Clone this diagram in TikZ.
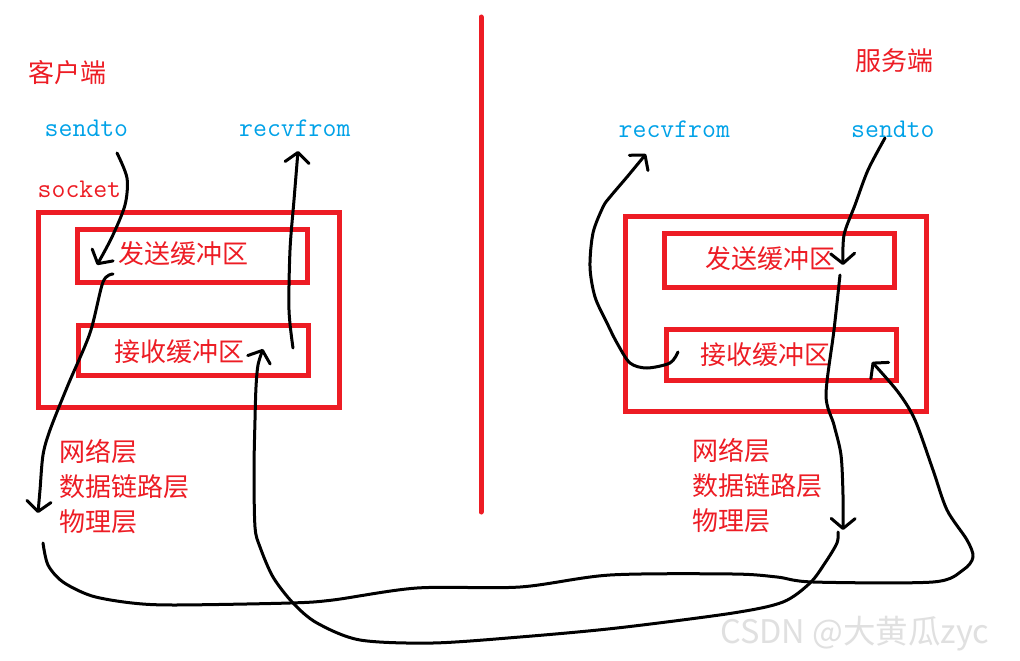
\documentclass[tikz,border=0pt]{standalone}
\usepackage{fontspec}
\usepackage{tikz}
\usetikzlibrary{positioning, arrows.meta}
\newfontfamily\cjkfont{Noto Sans CJK SC}
\definecolor{cRed}  {HTML}{ED1C24}
\definecolor{cBlue} {HTML}{00A2E8}
\definecolor{cMark} {HTML}{E0E0E0}
\tikzset{
  cnlabel/.style={text=cRed, font=\cjkfont\fontsize{26}{35}\selectfont, inner sep=0pt},
  fnlabel/.style={text=cBlue, font=\ttfamily\fontsize{27}{30}\selectfont, inner sep=0pt, anchor=base west},
  sockbox/.style={draw=cRed, line width=5pt, minimum width=301pt, minimum height=195pt, inner sep=0pt},
  bufbox/.style={draw=cRed, line width=5pt, minimum width=230pt, inner sep=0pt},
  pen/.style={black, line width=3pt, line cap=round, line join=round},
  pentip/.style={-{Straight Barb[length=10pt, width=24pt, line width=3pt, round]}},
}

\begin{document}
\begin{tikzpicture}[x=1pt, y=-1pt]
  \fill[white] (0,0) rectangle (1020,661);
  \draw[cRed, line width=5pt, line cap=round] (481,17) -- (481,512);

  % client
  \node[cnlabel] (client) at (67.5,72.5) {客户端};
  \node[fnlabel] (sendL) at (44.5,136) {sendto};
  \node[fnlabel] (recvL) at (239,136) {recvfrom};
  \node[fnlabel, text=cRed] (socketL) at (37.5,197) {socket};
  \node[sockbox] (sockL) at (189.3,310.2) {};
  \node[bufbox, minimum height=53pt] (sbufL) at (192.8,255.5) {};
  \node[bufbox, minimum height=50pt] (rbufL) at (193.8,350.5) {};
  \node[cnlabel] (sbufLtxt) at (183.7,254) {发送缓冲区};
  \node[cnlabel] (rbufLtxt) at (179,351.5) {接收缓冲区};
  \node[cnlabel, align=left, anchor=west] (layersL) at (59,487) {网络层\\数据链路层\\物理层};

  % server
  \node[cnlabel] (server) at (894,61) {服务端};
  \node[fnlabel] (recvR) at (618.5,137.3) {recvfrom};
  \node[fnlabel] (sendR) at (851,137.3) {sendto};
  \node[sockbox] (sockR) at (776.3,314.3) {};
  \node[bufbox, minimum height=54pt] (sbufR) at (779.8,260.3) {};
  \node[bufbox, minimum height=51pt] (rbufR) at (781,354.6) {};
  \node[cnlabel] (sbufRtxt) at (770.8,258.7) {发送缓冲区};
  \node[cnlabel] (rbufRtxt) at (765.8,355) {接收缓冲区};
  \node[cnlabel, align=left, anchor=west] (layersR) at (692,486) {网络层\\数据链路层\\物理层};

  \node[text=cMark, font=\cjkfont\fontsize{32.5}{36}\selectfont, inner sep=0pt, anchor=base west] (mark) at (720,643) {CSDN @大黄瓜zyc};

  % hand drawn paths
  \coordinate (sendLa) at (117,153);  \coordinate (sendLb) at (97,265);
  \coordinate (downLa) at (113,274);  \coordinate (downLb) at (38,513);
  \coordinate (wireAa) at (43,543);   \coordinate (wireAb) at (872,362);
  \coordinate (sendRa) at (885,138);  \coordinate (sendRb) at (843,265);
  \coordinate (downRa) at (840,275);  \coordinate (downRb) at (843,530);
  \coordinate (wireBa) at (838,532);  \coordinate (wireBb) at (263,349);
  \coordinate (recvLa) at (293,348);  \coordinate (recvLb) at (298,151);
  \coordinate (recvRa) at (678,352);  \coordinate (recvRb) at (646,154);

  \draw[pen, pentip] plot[smooth] coordinates {(sendLa) (127,178) (125,205) (112,237) (sendLb)};
  \draw[pen, pentip] plot[smooth] coordinates {(downLa) (103,282) (90,333) (68,385) (50,430) (43,455) (40,490) (downLb)};
  \draw[pen, pentip] plot[smooth] coordinates {(wireAa) (48,565) (63,582) (92,596) (132,603) (175,605) (290,603)
      (333,600) (417,588) (520,587) (610,575) (733,574) (777,577) (813,582) (933,582) (963,570)
      (973,557) (967,540) (947,510) (933,470) (915,420) (898,392) (wireAb)};
  \draw[pen, pentip] plot[smooth] coordinates {(sendRa) (868,170) (855,205) (844,235) (sendRb)};
  \draw[pen, pentip] plot[smooth] coordinates {(downRa) (834,330) (826,395) (834,425) (841,455) (843,495) (downRb)};
  \draw[pen, pentip] plot[smooth] coordinates {(wireBa) (837,543) (825,563) (810,583) (783,602)
      (733,613) (617,628) (520,637) (433,643) (360,640) (317,623) (293,603) (273,577) (260,547)
      (255,527) (254,470) (255,420) (256,387) (258,365) (wireBb)};
  \draw[pen, pentip] plot[smooth] coordinates {(recvLa) (289,310) (290,250) (294,200) (recvLb)};
  \draw[pen, pentip] plot[smooth] coordinates {(recvRa) (670,363) (647,368) (630,363) (617,343)
      (607,323) (595,297) (590,267) (593,233) (603,207) (610,197) (627,177) (recvRb)};
\end{tikzpicture}
\end{document}
